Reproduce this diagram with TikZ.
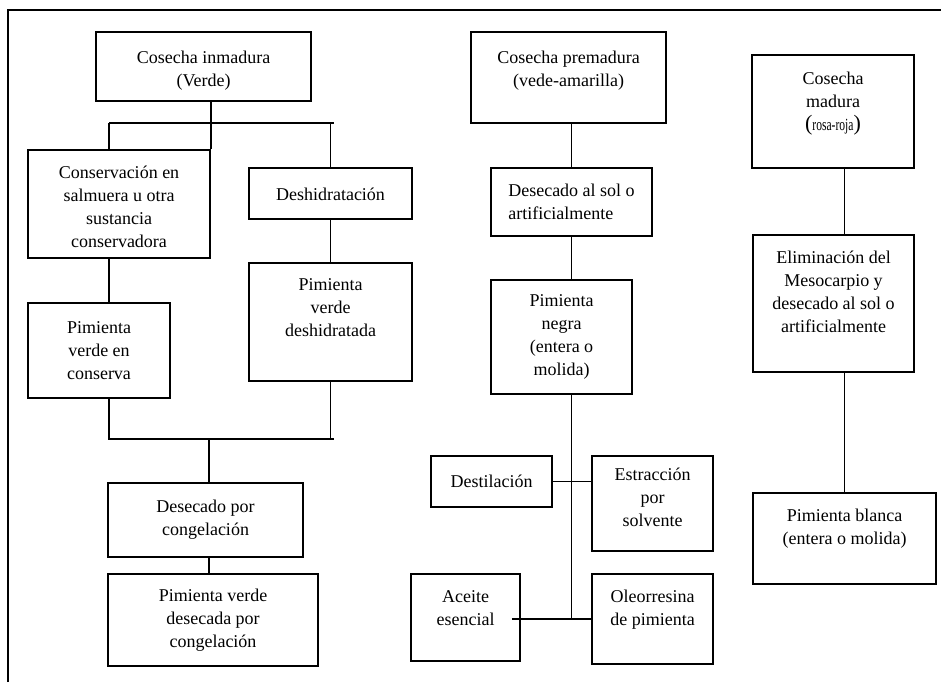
\documentclass[tikz,border=0pt]{standalone}
\usepackage{fontspec}
\setmainfont{Liberation Serif}
\usepackage{graphicx}
\begin{document}
\begin{tikzpicture}[x=1pt,y=-1pt,
  caja/.style={draw, line width=1.8pt, inner sep=0pt, rectangle},
  txt/.style={inner sep=0pt, align=center, font=\fontsize{18}{23}\selectfont},
  wire/.style={line width=1.8pt}]
\useasboundingbox (0,0) rectangle (941,682);

% frame
\draw[line width=1.8pt] (8,682) -- (8,10) -- (941,10);

% ---------- left branch: immature harvest ----------
\node[caja, minimum width=215pt, minimum height=69pt]  (ci)   at (203.5,66.5) {};
\node[txt] (ci-t) at ([yshift=-4pt]ci.center) {Cosecha inmadura\\(Verde)};

\node[caja, minimum width=182pt, minimum height=108pt] (cons) at (119,204) {};
\node[txt] (cons-t) at ([yshift=-3pt]cons.center) {Conservación en\\salmuera u otra\\sustancia\\conservadora};

\node[caja, minimum width=163pt, minimum height=51pt]  (desh) at (330.5,193.5) {};
\node[txt] (desh-t) at ([yshift=-1pt]desh.center) {Deshidratación};

\node[caja, minimum width=142pt, minimum height=95pt]  (pvc)  at (99,350.5) {};
\node[txt] (pvc-t) at (pvc.center) {Pimienta\\verde en\\conserva};

\node[caja, minimum width=163pt, minimum height=118pt] (pvd)  at (330.5,322) {};
\node[txt] (pvd-t) at ([yshift=14pt]pvd.center) {Pimienta\\verde\\deshidratada};

\node[caja, minimum width=195pt, minimum height=74pt]  (dpc)  at (205.5,520) {};
\node[txt] (dpc-t) at (dpc.center) {Desecado por\\congelación};

\node[caja, minimum width=210pt, minimum height=92pt]  (pvdc) at (213,620) {};
\node[txt] (pvdc-t) at (pvdc.center) {Pimienta verde\\desecada por\\congelación};

\coordinate (b1l) at (109,123);
\coordinate (b1r) at (334,123);
\coordinate (b2l) at (109,439);
\coordinate (b2r) at (334,439);
\coordinate (b2m) at (209,439);

\draw[wire] (cons.north east |- ci.south) -- (cons.north east);
\draw[wire] (b1l) -- (b1r);
\draw[wire] (b1l) -- (b1l |- cons.north);
\draw[wire] (desh.north |- b1r) -- (desh.north);
\draw[wire] (b1l |- cons.south) -- (b1l |- pvc.north);
\draw[wire] (desh.south) -- (pvd.north);
\draw[wire] (b1l |- pvc.south) -- (b2l) -- (b2r);
\draw[wire] (pvd.south) -- (pvd.south |- b2r);
\draw[wire] (b2m) -- (b2m |- dpc.north);
\draw[wire] (b2m |- dpc.south) -- (b2m |- pvdc.north);

% ---------- middle branch: pre-ripe harvest ----------
\node[caja, minimum width=195pt, minimum height=91pt]  (cp)   at (568.5,77.5) {};
\node[txt] (cp-t) at ([yshift=7pt]cp.center) {Cosecha premadura\\(vede-amarilla)};

\node[caja, minimum width=161pt, minimum height=68pt]  (ds)   at (571.5,202) {};
\node[txt, align=left] (ds-t) at (ds.center) {Desecado al sol o\\artificialmente};

\node[caja, minimum width=141pt, minimum height=114pt] (pn)   at (561.5,337) {};
\node[txt] (pn-t) at (pn.center) {Pimienta\\negra\\(entera o\\molida)};

\node[caja, minimum width=121pt, minimum height=51pt]  (dest) at (491.5,481.5) {};
\node[txt] (dest-t) at (dest.center) {Destilación};

\node[caja, minimum width=121pt, minimum height=95pt]  (est)  at (652.5,503.5) {};
\node[txt] (est-t) at ([yshift=6pt]est.center) {Estracción\\por\\solvente};

\node[caja, minimum width=109pt, minimum height=87pt]  (ace)  at (465.5,617.5) {};
\node[txt] (ace-t) at ([yshift=9pt]ace.center) {Aceite\\esencial};

\node[caja, minimum width=121pt, minimum height=90pt]  (ole)  at (652.5,619) {};
\node[txt] (ole-t) at ([yshift=9pt]ole.center) {Oleorresina\\de pimienta};

\coordinate (j2) at (ds.south |- ole.west);
\draw[wire] (ds.north |- cp.south) -- (ds.north);
\draw[wire] (ds.south) -- (ds.south |- pn.north);
\draw[wire] (ds.south |- pn.south) -- (j2);
\draw[wire] (dest.east) -- (est.west |- dest.east);
\draw[wire] ([xshift=-9pt]ace.east |- j2) -- (ole.west |- j2);

% ---------- right branch: ripe harvest ----------
\node[caja, minimum width=162pt, minimum height=113pt] (cm)   at (833,111.5) {};
\node[txt] (cm-t) at ([yshift=8pt]cm.center) {Cosecha\\madura\\{\fontsize{22}{23}\selectfont(}\scalebox{0.68}[1]{\fontsize{17}{23}\selectfont rosa-roja}{\fontsize{22}{23}\selectfont)}};

\node[caja, minimum width=161pt, minimum height=137pt] (el)   at (833.5,303.5) {};
\node[txt] (el-t) at ([yshift=12pt]el.center) {Eliminación del\\Mesocarpio y\\desecado al sol o\\artificialmente};

\node[caja, minimum width=183pt, minimum height=91pt]  (pb)   at (844.5,538.5) {};
\node[txt] (pb-t) at ([yshift=9.5pt]pb.center) {Pimienta blanca\\(entera o molida)};

\draw[wire] (pb.north |- cm.south) -- (pb.north |- el.north);
\draw[wire] (pb.north |- el.south) -- (pb.north);
\end{tikzpicture}
\end{document}
